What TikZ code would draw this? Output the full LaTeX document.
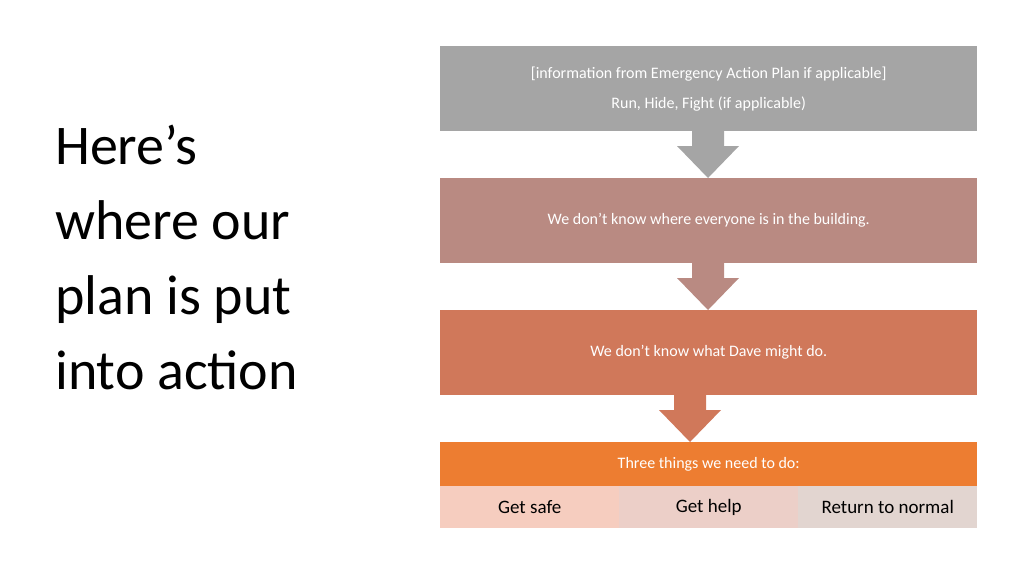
\documentclass[tikz,border=0pt]{standalone}
\usepackage{fontspec}
\setmainfont{Carlito}
\definecolor{g1}{HTML}{A5A5A5}
\definecolor{r2}{HTML}{B98A82}
\definecolor{o3}{HTML}{D0785A}
\definecolor{o4}{HTML}{ED7D31}
\definecolor{c1}{HTML}{F6CDBF}
\definecolor{c2}{HTML}{ECCFC8}
\definecolor{c3}{HTML}{E2D5D0}
\begin{document}
\begin{tikzpicture}[x=1pt,y=-1pt,
  box/.style={anchor=north west,minimum width=537pt,inner sep=0pt,text=white,font=\fontsize{16}{24}\selectfont,align=center},
  cell/.style={anchor=north west,minimum width=179pt,minimum height=42pt,inner sep=0pt,font=\fontsize{19}{22}\selectfont}]
\useasboundingbox[fill=white] (0,0) rectangle (1024,576);
\newcommand\downarr[4]{\fill[#1] (#2-16,#3) -- (#2+16,#3) -- (#2+16,#3+15) -- (#2+31,#3+15) -- (#2,#4) -- (#2-31,#3+15) -- (#2-16,#3+15) -- cycle;}
\node[anchor=north west,align=left,inner sep=0pt,font=\fontsize{56}{75}\selectfont] (title) at (55,125) {Here’s\\where our\\plan is put\\into action};
\node[box,fill=g1,minimum height=85pt] (b1) at (440,46) {[information from Emergency Action Plan if applicable]\\[6pt]Run, Hide, Fight (if applicable)};
\node[box,fill=r2,minimum height=85pt] (b2) at (440,178) {We don’t know where everyone is in the building.};
\node[box,fill=o3,minimum height=85pt] (b3) at (440,310) {We don’t know what Dave might do.};
\node[box,fill=o4,minimum height=44pt] (b4) at (440,442) {Three things we need to do:};
\node[cell,fill=c1] (s1) at (440,486) {Get safe};
\node[cell,fill=c2] (s2) at (619,486) {Get help};
\node[cell,fill=c3] (s3) at (798,486) {Return to normal};
\downarr{g1}{708}{131}{178}
\downarr{r2}{708}{263}{310}
\downarr{o3}{690}{395}{442}
\end{tikzpicture}
\end{document}
